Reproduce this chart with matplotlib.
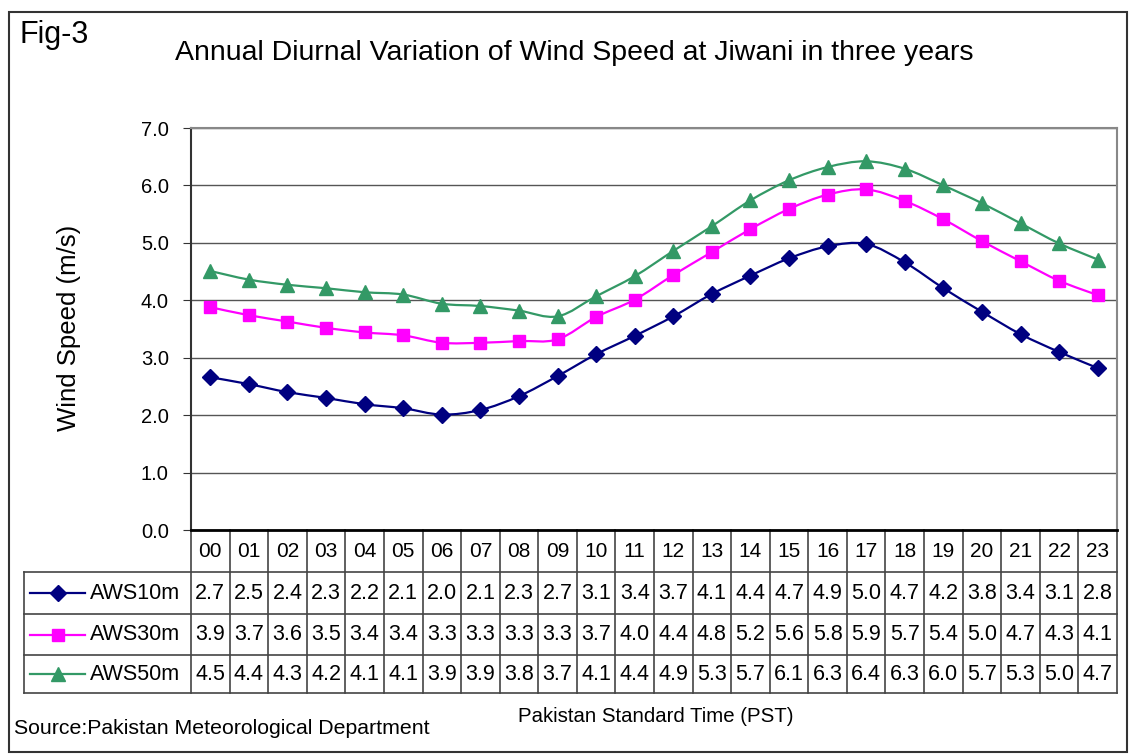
import matplotlib.pyplot as plt
import matplotlib.transforms as mtransforms
from matplotlib.patches import PathPatch, Rectangle
from matplotlib.path import Path
from matplotlib.lines import Line2D

plt.rcParams["font.family"] = ["Liberation Sans", "DejaVu Sans"]

hours = [f"{h:02d}" for h in range(24)]
aws10 = [2.66, 2.54, 2.40, 2.30, 2.19, 2.12, 2.01, 2.09, 2.33, 2.68, 3.06, 3.38,
         3.72, 4.11, 4.43, 4.73, 4.94, 4.98, 4.66, 4.21, 3.80, 3.41, 3.10, 2.82]
aws30 = [3.88, 3.74, 3.63, 3.52, 3.44, 3.39, 3.26, 3.26, 3.29, 3.32, 3.71, 4.01,
         4.44, 4.84, 5.24, 5.59, 5.84, 5.93, 5.73, 5.41, 5.03, 4.68, 4.34, 4.09]
aws50 = [4.51, 4.36, 4.27, 4.21, 4.14, 4.10, 3.94, 3.90, 3.82, 3.72, 4.07, 4.42,
         4.86, 5.29, 5.74, 6.09, 6.32, 6.42, 6.29, 6.00, 5.69, 5.34, 4.99, 4.71]
names = ["AWS10m", "AWS30m", "AWS50m"]
yticks = [0, 1, 2, 3, 4, 5, 6, 7]

SERIES = [
    (names[0], aws10, "#000080", "D", 8),
    (names[1], aws30, "#FF00FF", "s", 8.5),
    (names[2], aws50, "#339966", "^", 9.5),
]


def smooth_path(xs, ys):
    # excel-style smoothed line: cubic bezier through every point
    pts = list(zip(xs, ys))
    verts = [pts[0]]
    codes = [Path.MOVETO]
    n = len(pts)
    for i in range(n - 1):
        p0 = pts[i - 1] if i > 0 else pts[i]
        p1, p2 = pts[i], pts[i + 1]
        p3 = pts[i + 2] if i + 2 < n else pts[i + 1]
        c1 = (p1[0] + (p2[0] - p0[0]) / 6, p1[1] + (p2[1] - p0[1]) / 6)
        c2 = (p2[0] - (p3[0] - p1[0]) / 6, p2[1] - (p3[1] - p1[1]) / 6)
        verts += [c1, c2, p2]
        codes += [Path.CURVE4] * 3
    return Path(verts, codes)


W, H = 1130, 755
fig = plt.figure(figsize=(W / 100, H / 100), dpi=100)
L, R, T, B = 191, 1117, 128, 530
ax = fig.add_axes([L / W, 1 - B / H, (R - L) / W, (B - T) / H])

x = list(range(24))
for name, vals, col, mk, ms in SERIES:
    ax.add_patch(PathPatch(smooth_path(x, vals), fill=False, edgecolor=col, lw=1.6, zorder=3))
    ax.plot(x, vals, ls="none", marker=mk, ms=ms, color=col, mec=col, zorder=4)

ax.set_xlim(-0.5, 23.5)
ax.set_ylim(0, 7)
ax.set_yticks(yticks)
ax.set_yticklabels([f"{v:.1f}" for v in yticks], fontsize=14.5)
ax.set_xticks([])
ax.grid(axis="y", color="#555555", lw=1.0)
ax.set_axisbelow(True)
ax.tick_params(axis="y", direction="out", length=6, color="#333333", pad=10)
for side in ("top", "right"):
    ax.spines[side].set_color("#888888")
    ax.spines[side].set_linewidth(1.5)
ax.spines["left"].set_color("#333333")
ax.spines["left"].set_linewidth(1.5)
ax.spines["bottom"].set_color("#000000")
ax.spines["bottom"].set_linewidth(2.0)

# data table below the axis, columns on the hour positions
tr = mtransforms.blended_transform_factory(ax.transData, ax.transAxes)
rows_y = [-0.1045, -0.209, -0.311, -0.4055]
x_left = -4.83
lc = "#444444"
for i in range(25):
    ax.add_line(Line2D([i - 0.5, i - 0.5], [0, rows_y[-1]], transform=tr, color=lc, lw=1.2, clip_on=False))
for yy in rows_y:
    ax.add_line(Line2D([x_left, 23.5], [yy, yy], transform=tr, color=lc, lw=1.2, clip_on=False))
ax.add_line(Line2D([x_left, x_left], [rows_y[0], rows_y[-1]], transform=tr, color=lc, lw=1.2, clip_on=False))

for i, h in enumerate(hours):
    ax.text(i, (0 + rows_y[0]) / 2, h, transform=tr, ha="center", va="center", fontsize=15, clip_on=False)

for r, (name, vals, col, mk, ms) in enumerate(SERIES):
    yc = (rows_y[r] + rows_y[r + 1]) / 2
    ax.add_line(Line2D([-4.67, -3.25], [yc, yc], transform=tr, color=col, lw=1.6, clip_on=False))
    ax.add_line(Line2D([-3.96], [yc], transform=tr, ls="none", marker=mk, ms=ms, color=col, clip_on=False))
    ax.text(-3.12, yc, name, transform=tr, ha="left", va="center", fontsize=15.5, clip_on=False)
    for i, v in enumerate(vals):
        ax.text(i, yc, f"{v:.1f}", transform=tr, ha="center", va="center", fontsize=15.5, clip_on=False)

fig.text(19 / W, 1 - 43 / H, "Fig-3", fontsize=22, va="baseline")
fig.text(574 / W, 1 - 60 / H, "Annual Diurnal Variation of Wind Speed at Jiwani in three years",
         fontsize=20.5, ha="center", va="baseline")
fig.text(69 / W, 1 - 328 / H, "Wind Speed (m/s)", fontsize=18.5, rotation=90, ha="center", va="center")
fig.text(656 / W, 1 - 716 / H, "Pakistan Standard Time (PST)", fontsize=14.7, ha="center", va="center")
fig.text(14 / W, 1 - 729 / H, "Source:Pakistan Meteorological Department", fontsize=15.3, ha="left", va="center")

fig.add_artist(Rectangle((9 / W, 3 / H), 1118 / W, 740 / H, transform=fig.transFigure,
                         fill=False, edgecolor="#333333", lw=1.5))

fig.savefig("out.png", dpi=100)
